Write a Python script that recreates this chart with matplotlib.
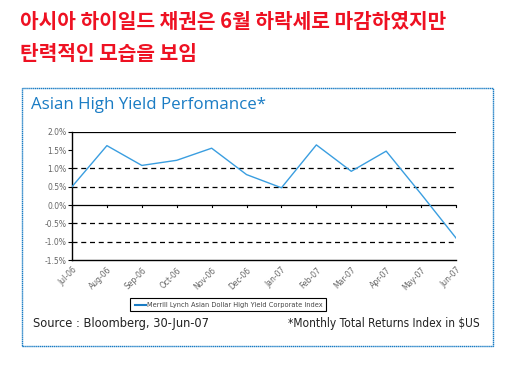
import matplotlib
matplotlib.use("Agg")
import matplotlib.pyplot as plt
from matplotlib.patches import Rectangle
from matplotlib.lines import Line2D

months = ["Jul-06", "Aug-06", "Sep-06", "Oct-06", "Nov-06", "Dec-06",
          "Jan-07", "Feb-07", "Mar-07", "Apr-07", "May-07", "Jun-07"]
returns = [0.50, 1.62, 1.08, 1.22, 1.55, 0.83, 0.47, 1.64, 0.92, 1.47, 0.30, -0.90]
ytick_vals = [2.0, 1.5, 1.0, 0.5, 0.0, -0.5, -1.0, -1.5]
ytick_labels = ["2.0%", "1.5%", "1.0%", "0.5%", "0.0%", "-0.5%", "-1.0%", "-1.5%"]
dashed_levels = [1.0, 0.5, -0.5, -1.0]
solid_levels = [2.0, 0.0]

W, H = 520, 367
fig = plt.figure(figsize=(W / 100, H / 100), dpi=100)
fig.patch.set_facecolor("white")

def fx(px):
    return px / W

def fy(py):
    return 1 - py / H

kr = ["Noto Sans CJK KR", "DejaVu Sans"]
red = "#ee1122"
fig.text(fx(20), fy(21), "아시아 하이일드 채권은 6월 하락세로 마감하였지만",
         color=red, fontsize=14.6, fontweight="bold", family=kr, va="center", ha="left")
fig.text(fx(20), fy(53), "탄력적인 모습을 보임",
         color=red, fontsize=14.6, fontweight="bold", family=kr, va="center", ha="left")

blue = "#1a7cc4"
# outer frame
fig.patches.append(Rectangle((fx(22), fy(346)), fx(493) - fx(22), fy(88) - fy(346),
                             transform=fig.transFigure, fill=False,
                             edgecolor=blue, linewidth=1.0, linestyle=(0, (1, 0.4))))

fig.text(fx(31), fy(105), "Asian High Yield Perfomance*", color=blue,
         fontsize=12.2, family="Open Sans", va="center", ha="left")

ax = fig.add_axes([fx(72), fy(260), fx(456) - fx(72), fy(131.7) - fy(260)])
x = list(range(len(months)))
ax.plot(x, returns, color="#3a9ee0", linewidth=1.0, zorder=3)
for lv in dashed_levels:
    ax.axhline(lv, color="black", linewidth=0.9, linestyle=(0, (4, 3)), zorder=1)
for lv in solid_levels:
    ax.axhline(lv, color="black", linewidth=0.9, zorder=1)

ax.set_xlim(0, len(months) - 1)
ax.set_ylim(-1.5, 2.0)
ax.set_yticks(ytick_vals)
ax.set_yticklabels(ytick_labels)
ax.set_xticks(x)
ax.set_xticklabels(months, rotation=45, ha="right", rotation_mode="anchor")
ax.tick_params(axis="y", labelsize=5.5, labelcolor="#666666", length=3, width=0.8, pad=1)
ax.tick_params(axis="x", labelsize=5.5, labelcolor="#666666", length=0, pad=4)
for sp in ["top", "right"]:
    ax.spines[sp].set_visible(False)
ax.spines["left"].set_linewidth(1.0)
ax.spines["bottom"].set_linewidth(1.0)
# small tick marks hanging from the zero line
for xi in x:
    ax.plot([xi, xi], [0.0, -0.06], color="black", linewidth=0.8, zorder=2, clip_on=False)

# legend box
fig.patches.append(Rectangle((fx(130), fy(311)), fx(326) - fx(130), fy(298) - fy(311),
                             transform=fig.transFigure, fill=False,
                             edgecolor="black", linewidth=0.8))
fig.lines.append(Line2D([fx(135), fx(146)], [fy(304.5), fy(304.5)],
                        transform=fig.transFigure, color="#1a7cc4", linewidth=1.5))
fig.text(fx(147), fy(304.5), "Merrill Lynch Asian Dollar High Yield Corporate Index",
         fontsize=4.8, color="#444444", va="center", ha="left")

fig.text(fx(33), fy(324), "Source : Bloomberg, 30-Jun-07", fontsize=9.2,
         color="#222222", va="center", ha="left", fontstretch="condensed")
fig.text(fx(480), fy(324), "*Monthly Total Returns Index in $US", fontsize=8.6,
         color="#222222", va="center", ha="right", fontstretch="condensed")

fig.savefig("out.png", dpi=100, facecolor="white")
